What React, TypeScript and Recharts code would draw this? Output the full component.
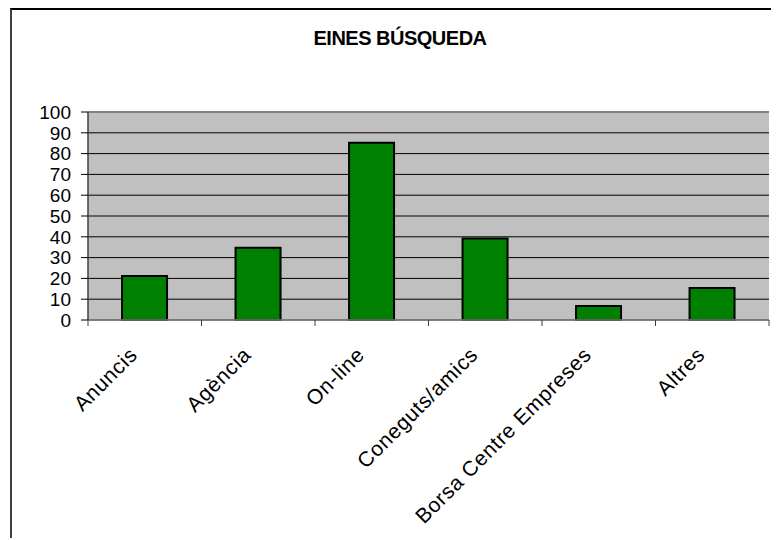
import React from 'react';
import { BarChart, Bar, XAxis, YAxis, CartesianGrid, ReferenceLine } from 'recharts';

const title = 'EINES BÚSQUEDA';
const categories = ['Anuncis', 'Agència', 'On-line', 'Coneguts/amics', 'Borsa Centre Empreses', 'Altres'];
const values = [21.2, 34.7, 85.2, 39.2, 6.7, 15.4];
const yTicks = [0, 10, 20, 30, 40, 50, 60, 70, 80, 90, 100];

const data = categories.map((c, i) => ({ name: c, value: values[i] }));

const FONT = '"Liberation Sans", Arial, sans-serif';

function CategoryTick(props: any) {
  const { x, y, payload, index, visibleTicksCount } = props;
  const half = payload && typeof payload.offset === 'number' ? payload.offset : 0;
  const last = index === visibleTicksCount - 1;
  const ax = x - 6;
  const ay = y + 36;
  return (
    <g>
      <line x1={x - half} x2={x - half} y1={y} y2={y + 6} stroke="#404040" strokeWidth={1} />
      {last && <line x1={x + half} x2={x + half} y1={y} y2={y + 6} stroke="#404040" strokeWidth={1} />}
      <text
        x={ax}
        y={ay}
        transform={`rotate(-45, ${ax}, ${ay})`}
        textAnchor="end"
        fontSize={21}
        letterSpacing={0.7}
        fontFamily={FONT}
        fill="#000"
      >
        {payload.value}
      </text>
    </g>
  );
}

export default function App() {
  return (
    <div
      style={{
        position: 'relative',
        marginLeft: 2,
        width: 764,
        height: 530,
        borderTop: '2px solid #000',
        borderLeft: '2px solid #404040',
        boxSizing: 'border-box',
        fontFamily: FONT,
      }}
    >
      <div
        style={{
          position: 'absolute',
          top: 18,
          left: 188,
          width: 400,
          textAlign: 'center',
          fontWeight: 'bold',
          fontSize: 20,
          lineHeight: '20px',
          letterSpacing: -0.5,
          color: '#000',
        }}
      >
        {title}
      </div>
      <BarChart
        width={762}
        height={525}
        data={data}
        margin={{ top: 102, right: 5, left: 0, bottom: 15 }}
        barCategoryGap="30%"
      >
        <CartesianGrid vertical={false} stroke="#000" fill="#C0C0C0" />
        <XAxis
          dataKey="name"
          interval={0}
          tickSize={0}
          tickMargin={0}
          tickLine={false}
          height={200}
          axisLine={{ stroke: '#808080', strokeWidth: 1.5 }}
          tick={<CategoryTick />}
        />
        <YAxis
          domain={[0, 100]}
          ticks={yTicks}
          interval={0}
          width={76}
          tickSize={7}
          tickMargin={10}
          tick={{ fill: '#000', fontSize: 19, fontFamily: FONT }}
          axisLine={{ stroke: '#404040', strokeWidth: 1.5 }}
          tickLine={{ stroke: '#000' }}
        />
        <YAxis
          yAxisId="r"
          orientation="right"
          width={0}
          domain={[0, 100]}
          tick={false}
          tickLine={false}
          axisLine={{ stroke: '#808080', strokeWidth: 2 }}
        />
        <ReferenceLine y={100} stroke="#808080" strokeWidth={2} />
        <Bar dataKey="value" fill="#008000" stroke="#000" strokeWidth={2} isAnimationActive={false} />
      </BarChart>
    </div>
  );
}
